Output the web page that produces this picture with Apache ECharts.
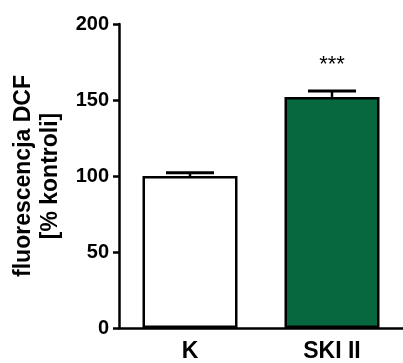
<!DOCTYPE html>
<html>
<head>
<meta charset="utf-8">
<script src="https://cdn.jsdelivr.net/npm/echarts@6/dist/echarts.min.js"></script>
<style>html,body{margin:0;padding:0;background:#fff}#c{width:403px;height:363px}</style>
</head>
<body>
<div id="c"></div>
<script>
var categories = ['K', 'SKI II'];
var means = [100, 152];
var errors = [2.2, 4];
var significance = ['', '***'];
var yTicks = [0, 50, 100, 150, 200];
var barColors = ['#ffffff', '#07683f'];

var FONT = '"Liberation Sans", Arial, sans-serif';
var chart = echarts.init(document.getElementById('c'), null, {renderer: 'canvas'});
chart.setOption({
  animation: false,
  backgroundColor: '#fff',
  grid: {left: 119, right: 0, top: 24, bottom: 33, containLabel: false},
  xAxis: {
    type: 'category',
    data: categories,
    axisLine: {lineStyle: {color: '#000', width: 2.5}},
    axisTick: {alignWithLabel: true, length: 7, lineStyle: {color: '#000', width: 2.5}},
    axisLabel: {color: '#000', fontFamily: FONT, fontWeight: 'bold', fontSize: 23, margin: 12}
  },
  yAxis: {
    type: 'value',
    min: yTicks[0],
    max: yTicks[yTicks.length - 1],
    interval: 50,
    name: 'fluorescencja DCF\n[% kontroli]',
    nameLocation: 'middle',
    nameRotate: 90,
    nameGap: 55,
    nameTextStyle: {color: '#000', fontFamily: FONT, fontWeight: 'bold', fontSize: 23, lineHeight: 27},
    axisLine: {show: true, lineStyle: {color: '#000', width: 2.5}},
    axisTick: {show: true, length: 6, lineStyle: {color: '#000', width: 2.5}},
    axisLabel: {color: '#000', fontFamily: FONT, fontWeight: 'bold', fontSize: 20, margin: 10},
    splitLine: {show: false}
  },
  series: [
    {
      type: 'bar',
      barWidth: 95,
      data: means.map(function (v, i) {
        return {value: v, itemStyle: {color: barColors[i]}};
      }),
      itemStyle: {borderColor: '#000', borderWidth: 2.5},
      z: 2
    },
    {
      type: 'custom',
      z: 3,
      data: means.map(function (v, i) { return [i, v, errors[i]]; }),
      renderItem: function (params, api) {
        var i = api.value(0), m = api.value(1), e = api.value(2);
        var base = api.coord([i, m]);
        var top = api.coord([i, m + e]);
        var half = 24;
        var children = [
          {type: 'line', shape: {x1: base[0], y1: base[1], x2: top[0], y2: top[1]}, style: {stroke: '#000', lineWidth: 2.5}},
          {type: 'line', shape: {x1: top[0] - half, y1: top[1], x2: top[0] + half, y2: top[1]}, style: {stroke: '#000', lineWidth: 3}}
        ];
        var s = significance[params.dataIndex];
        if (s) {
          children.push({type: 'text', x: top[0], y: top[1] - 26, style: {text: s, fill: '#000', font: '22px ' + FONT, align: 'center', verticalAlign: 'middle'}});
        }
        return {type: 'group', children: children};
      }
    }
  ]
});
</script>
</body>
</html>
